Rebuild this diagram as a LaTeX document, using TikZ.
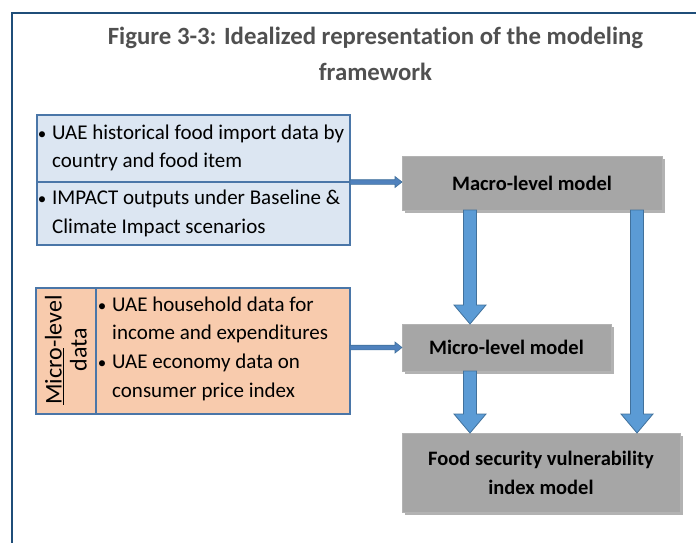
\documentclass[tikz,border=0pt]{standalone}
\usepackage{fontspec}
\setmainfont{Carlito}[Ligatures=NoCommon]
\usetikzlibrary{calc,shadows}
\definecolor{frameblue}{HTML}{1F4E79}
\definecolor{titlegray}{HTML}{505050}
\definecolor{srcfill}{HTML}{DCE6F2}
\definecolor{orgfill}{HTML}{F8CBAD}
\definecolor{boxline}{HTML}{4A76A8}
\definecolor{modelgray}{HTML}{A6A6A6}
\definecolor{arrowfill}{HTML}{5B9BD5}
\definecolor{harrowfill}{HTML}{4F81BD}
\definecolor{arrowline}{HTML}{41719C}
\newcommand\dnblock[2]{%
  \path[fill=arrowfill,draw=arrowline,line width=0.8pt] let \p1=#1, \p2=#2 in
  (\x1-6.5pt,\y1) -- (\x1+6.5pt,\y1) -- (\x1+6.5pt,\y2+19pt) -- (\x1+16pt,\y2+19pt)
  -- (\x1,\y2) -- (\x1-16pt,\y2+19pt) -- (\x1-6.5pt,\y2+19pt) -- cycle;}
\newcommand\rtblock[2]{%
  \path[fill=harrowfill,draw=arrowline,line width=0.6pt] let \p1=#1, \p2=#2 in
  (\x1,\y1+2.3pt) -- (\x2-7pt,\y1+2.3pt) -- (\x2-7pt,\y1+5.5pt) -- (\x2,\y1)
  -- (\x2-7pt,\y1-5.5pt) -- (\x2-7pt,\y1-2.3pt) -- (\x1,\y1-2.3pt) -- cycle;}
\begin{document}
\begin{tikzpicture}[x=1pt,y=-1pt,
  titletext/.style={font=\fontsize{24.8}{34}\selectfont\bfseries, text=titlegray, inner sep=0},
  bodyline/.style={font=\fontsize{21}{28}\selectfont, anchor=base west, inner sep=0},
  bul/.style={font=\fontsize{17}{28}\selectfont, anchor=base, inner sep=0},
  databox/.style={draw=boxline, line width=1.6pt, inner sep=0, outer sep=0},
  modelbox/.style={fill=modelgray, draw=modelgray!85!white, line width=0.5pt,
    inner sep=0, outer sep=0, align=center,
    font=\fontsize{20.5}{29}\selectfont\bfseries,
    drop shadow={shadow xshift=3pt, shadow yshift=-3pt, opacity=0.3, fill=black}},
  divider/.style={draw=boxline, line width=1.6pt}]
\useasboundingbox (0,0) rectangle (696,542);
\clip (0,0) rectangle (696,542);
% frame
\draw[frameblue, line width=2.5pt] (12,550) -- (12,13) -- (710,13);
% title
\node[titletext] (t1) at (375.5,38) {Figure 3-3: Idealized representation of the modeling};
\node[titletext] (t2) at (375.5,72) {framework};
% source data box
\node[databox, fill=srcfill, minimum width=313pt, minimum height=130pt] (src) at (193.5,180) {};
\draw[divider] ($(src.north west)+(0,67)$) coordinate (srcdivl) -- ($(src.north east)+(0,67)$) coordinate (srcdivr);
\node[bul] (b1) at (42,139) {•};
\node[bodyline] (l1) at (52,139) {UAE historical food import data by};
\node[bodyline] (l2) at (52,167) {country and food item};
\node[bul] (b2) at (42,204) {•};
\node[bodyline] (l3) at (52,204) {IMPACT outputs under Baseline \&};
\node[bodyline] (l4) at (52,233) {Climate Impact scenarios};
% micro-level data box
\node[databox, fill=orgfill, minimum width=314pt, minimum height=126pt] (org) at (193,351) {};
\draw[divider] ($(org.north west)+(60,0)$) -- ($(org.south west)+(60,0)$);
\node[rotate=90, align=center, inner sep=0, font=\fontsize{24}{25}\selectfont] (mdl) at (66,350) {\underline{Micro}-level\\data};
\node[bul] (b3) at (102,311) {•};
\node[bodyline] (m1) at (112,311) {UAE household data for};
\node[bodyline] (m2) at (112,339) {income and expenditures};
\node[bul] (b4) at (102,368) {•};
\node[bodyline] (m3) at (112,368) {UAE economy data on};
\node[bodyline] (m4) at (112,397) {consumer price index};
% models
\node[modelbox, minimum width=260pt, minimum height=54pt] (macro) at (532,183) {Macro-level model};
\node[modelbox, minimum width=209pt, minimum height=47pt] (micro) at (506.5,347.5) {Micro-level model};
\node[modelbox, minimum width=278pt, minimum height=79pt] (food) at (541,472.5) {Food security vulnerability\\index model};
% arrows
\rtblock{(srcdivr)}{(macro.west)}
\rtblock{(org.east |- micro.west)}{(micro.west)}
\dnblock{($(macro.south west)+(68,0)$)}{($(micro.north west)+(68,0)$)}
\dnblock{($(micro.south west)+(68,0)$)}{($(food.north west)+(68,0)$)}
\dnblock{($(macro.south east)+(-25,0)$)}{($(food.north west)+(235,0)$)}
\end{tikzpicture}
\end{document}
